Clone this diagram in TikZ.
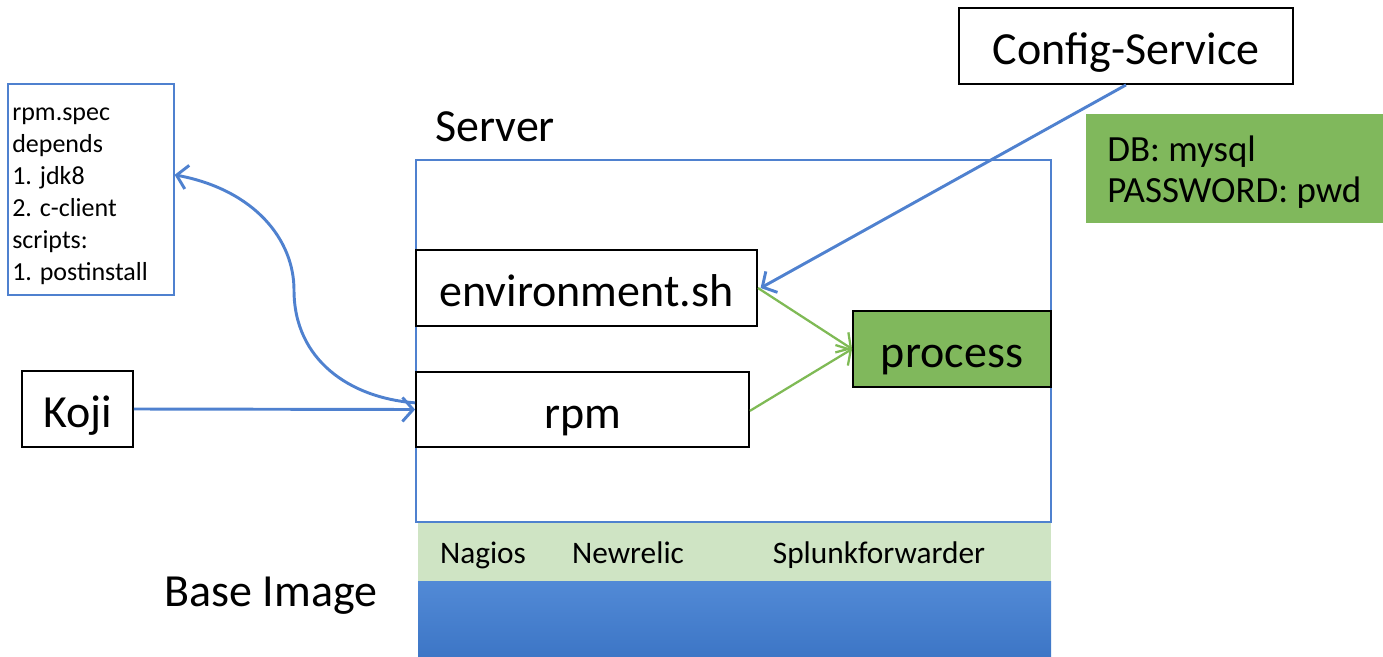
\documentclass[tikz,border=0pt]{standalone}
\usepackage{fontspec}
\setmainfont{Carlito}
\usepackage{tikz}
\usetikzlibrary{arrows.meta}

\definecolor{lineblue}{HTML}{4F81CF}
\definecolor{linegreen}{HTML}{7FBA55}
\definecolor{procgreen}{HTML}{80B85C}
\definecolor{bandgreen}{HTML}{CFE4C4}
\definecolor{imgtop}{HTML}{528AD6}
\definecolor{imgbot}{HTML}{3D76C6}

\tikzset{
  bigtext/.style={font=\fontsize{34.5}{41}\selectfont},
  smalltext/.style={font=\fontsize{23.5}{28}\selectfont,anchor=base},
  blackbox/.style={draw=black,line width=1.4pt,inner sep=0pt,bigtext,text height=30pt,text depth=1.8pt},
  bluearrow/.style={draw=lineblue,line width=2.2pt,-{Straight Barb[length=8pt,width=18pt]}},
  greenarrow/.style={draw=linegreen,line width=1.7pt,-{Straight Barb[length=8pt,width=18pt]}}
}

\begin{document}
\begin{tikzpicture}[x=0.75pt,y=0.75pt,yscale=-1,xscale=1]
\useasboundingbox (0,0) rectangle (1383,656);

% Server frame
\draw (733.5,341) node [draw=lineblue,line width=0.9pt,minimum width=476.25pt,minimum height=271.5pt,inner sep=0pt] (server) {};
% Text Node
\draw (495,127) node [bigtext] (serverlabel) {Server};

% Base image layers
\draw (734.5,552) node [fill=bandgreen,minimum width=474.75pt,minimum height=43.5pt,inner sep=0pt] (agents) {};
\draw (734.5,618.5) node [top color=imgtop,bottom color=imgbot,minimum width=474.75pt,minimum height=56.25pt,inner sep=0pt] (baseimg) {};
\draw (483,563) node [smalltext] (nagios) {Nagios};
\draw (628,563) node [smalltext] (newrelic) {Newrelic};
\draw (879,563) node [smalltext] (splunk) {Splunkforwarder};
% Text Node
\draw (271,596) node [bigtext] (baselabel) {Base Image};

% Boxes
\draw (586.5,288) node [blackbox,fill=white,minimum width=255.75pt,minimum height=57pt] (env) {environment.sh};
\draw (582.5,409.5) node [blackbox,fill=white,minimum width=249.75pt,minimum height=56.25pt] (rpm) {rpm};
\draw (952,349) node [blackbox,fill=procgreen,minimum width=148.5pt,minimum height=57pt] (process) {process};
\draw (77.5,409) node [blackbox,minimum width=83.25pt,minimum height=57pt] (koji) {Koji};
\draw (1126,46) node [blackbox,minimum width=250.5pt,minimum height=57pt] (config) {Config-Service};

% Spec box
\draw (91,189.5) node [draw=lineblue,line width=0.9pt,minimum width=124.5pt,minimum height=158.25pt,inner sep=0pt] (spec) {};
\draw (12,196) node [anchor=west,align=left,inner sep=0pt,font=\fontsize{19.5}{24}\selectfont] (spectext) {rpm.spec\\depends\\1. jdk8\\2. c-client\\scripts:\\1. postinstall};

% Settings box
\draw (1234.5,168.5) node [fill=procgreen,minimum width=222.75pt,minimum height=81.75pt,inner sep=0pt] (settings) {};
\draw (1107,172) node [anchor=west,align=left,inner sep=0pt,font=\fontsize{27.7}{30.5}\selectfont] (settingstext) {DB: mysql\\PASSWORD: pwd};

% Connectors
\draw [bluearrow] (koji.east) -- (rpm.west);
\draw [bluearrow] ([yshift=-5pt]rpm.west) .. controls (350,398) and (294,360) .. (294,290) .. controls (294,240) and (255,190) .. ([yshift=-11pt]spec.east);
\draw [bluearrow] (config.south) -- ([xshift=2pt]env.east);
\draw [greenarrow] (env.east) -- (process.west);
\draw [greenarrow] ([yshift=1pt]rpm.east) -- (process.west);

\end{tikzpicture}
\end{document}
